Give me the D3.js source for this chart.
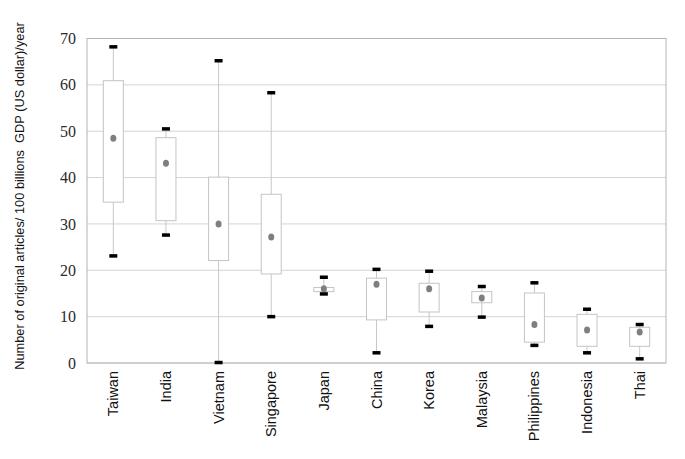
<!DOCTYPE html>
<html>
<head>
<meta charset="utf-8">
<script src="https://cdn.jsdelivr.net/npm/d3@7"></script>
<style>
  body { margin: 0; background: #fff; }
  svg { display: block; }
</style>
</head>
<body>
<svg id="chart" width="685" height="459"></svg>
<script>
// values
const countries = ["Taiwan", "India", "Vietnam", "Singapore", "Japan", "China", "Korea", "Malaysia", "Philippines", "Indonesia", "Thai"];
const maxVals  = [68.2, 50.5, 65.2, 58.3, 18.5, 20.2, 19.8, 16.5, 17.3, 11.6, 8.3];
const q3Vals   = [60.9, 48.6, 40.1, 36.4, 16.3, 18.3, 17.2, 15.4, 15.1, 10.5, 7.7];
const meanVals = [48.5, 43.1, 30.0, 27.2, 16.0, 17.0, 16.0, 14.0, 8.3, 7.1, 6.7];
const q1Vals   = [34.7, 30.7, 22.1, 19.2, 15.4, 9.3, 11.0, 13.0, 4.5, 3.6, 3.6];
const minVals  = [23.1, 27.6, 0.1, 10.0, 14.9, 2.2, 7.9, 9.9, 3.8, 2.2, 0.9];
const yTicks = [0, 10, 20, 30, 40, 50, 60, 70];

const data = countries.map((c, i) => ({
  name: c, max: maxVals[i], q3: q3Vals[i], mean: meanVals[i], q1: q1Vals[i], min: minVals[i]
}));

const svg = d3.select("#chart");
const plot = { left: 87, right: 666, top: 38.5, bottom: 363 };

const x = d3.scaleBand()
  .domain(countries)
  .range([plot.left, plot.right])
  .padding(0);

const y = d3.scaleLinear()
  .domain([0, 70])
  .range([plot.bottom, plot.top]);

// gridlines
svg.append("g")
  .selectAll("line")
  .data(yTicks)
  .join("line")
  .attr("x1", plot.left)
  .attr("x2", plot.right)
  .attr("y1", d => y(d))
  .attr("y2", d => y(d))
  .attr("stroke", "#d4d4d4")
  .attr("stroke-width", 1);

// plot border
svg.append("rect")
  .attr("x", plot.left)
  .attr("y", plot.top)
  .attr("width", plot.right - plot.left)
  .attr("height", plot.bottom - plot.top)
  .attr("fill", "none")
  .attr("stroke", "#b4b4b4")
  .attr("stroke-width", 1);

// y tick labels
svg.append("g")
  .selectAll("text")
  .data(yTicks)
  .join("text")
  .attr("x", 76)
  .attr("y", d => y(d))
  .attr("dy", "0.35em")
  .attr("text-anchor", "end")
  .attr("font-family", "Liberation Serif, DejaVu Serif, serif")
  .attr("font-size", 16)
  .attr("fill", "#2a2a2a")
  .text(d => d);

// y title (double space kept as in the original)
svg.append("text")
  .attr("transform", "translate(20,196) rotate(-90)")
  .attr("text-anchor", "middle")
  .attr("dy", "0.35em")
  .attr("xml:space", "preserve")
  .style("white-space", "pre")
  .attr("font-family", "Liberation Sans, Arial, sans-serif")
  .attr("font-size", 12.8)
  .attr("fill", "#111")
  .text("Number of original articles/ 100 billions  GDP (US dollar)/year");

const boxW = 20, capW = 8, capH = 3.5;
const g = svg.append("g")
  .selectAll("g")
  .data(data)
  .join("g")
  .attr("transform", d => `translate(${x(d.name) + x.bandwidth() / 2},0)`);

// whisker
g.append("line")
  .attr("x1", 0).attr("x2", 0)
  .attr("y1", d => y(d.min))
  .attr("y2", d => y(d.max))
  .attr("stroke", "#c8c8c8")
  .attr("stroke-width", 1);

// box
g.append("rect")
  .attr("x", -boxW / 2)
  .attr("width", boxW)
  .attr("y", d => y(d.q3))
  .attr("height", d => y(d.q1) - y(d.q3))
  .attr("fill", "#fff")
  .attr("stroke", "#c4c4c4")
  .attr("stroke-width", 1);

// caps
g.append("rect")
  .attr("x", -capW / 2)
  .attr("y", d => y(d.max) - capH / 2)
  .attr("width", capW)
  .attr("height", capH)
  .attr("fill", "#000");

g.append("rect")
  .attr("x", -capW / 2)
  .attr("y", d => y(d.min) - capH / 2)
  .attr("width", capW)
  .attr("height", capH)
  .attr("fill", "#000");

// mean dot
g.append("ellipse")
  .attr("cx", 0)
  .attr("cy", d => y(d.mean))
  .attr("rx", 3)
  .attr("ry", 3.5)
  .attr("fill", "#7f7f7f");

// x labels
svg.append("g")
  .selectAll("text")
  .data(countries)
  .join("text")
  .attr("transform", d => `translate(${x(d) + x.bandwidth() / 2},371) rotate(-90)`)
  .attr("text-anchor", "end")
  .attr("dy", "0.35em")
  .attr("font-family", "Liberation Sans, Arial, sans-serif")
  .attr("font-size", 14.5)
  .attr("fill", "#111")
  .text(d => d);
</script>
</body>
</html>
